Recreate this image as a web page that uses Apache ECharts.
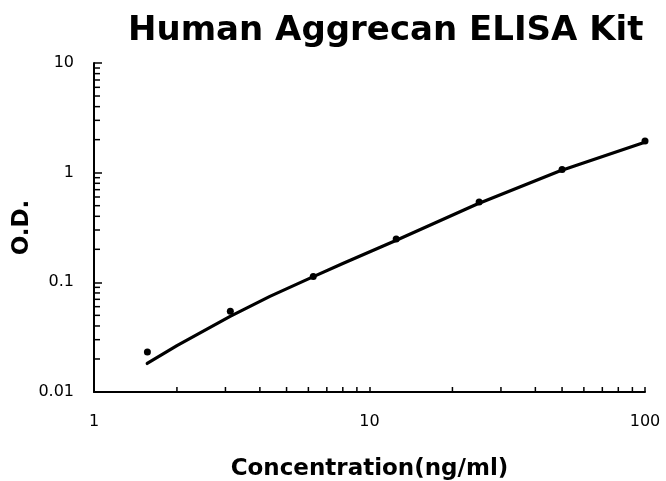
<!DOCTYPE html>
<html>
<head>
<meta charset="utf-8">
<script src="https://cdn.jsdelivr.net/npm/echarts@6/dist/echarts.min.js"></script>
<style>
  html, body { margin: 0; padding: 0; background: #fff; }
  #chart { width: 666px; height: 481px; }
</style>
</head>
<body>
<div id="chart"></div>
<script>
const concentrations = [1.5625, 3.125, 6.25, 12.5, 25, 50, 100];
const odValues = [0.0232, 0.0545, 0.113, 0.248, 0.541, 1.07, 1.94];

const fitX = [1.56, 2.0, 3.12, 4.35, 6.17, 8.0, 12.4, 24.5, 49, 98.6];
const fitY = [0.0182, 0.0265, 0.049, 0.0745, 0.111, 0.1486, 0.239, 0.515, 1.035, 1.875];

// Minor tick positions (log axes show 2..9 within each decade).
const xMinorTicks = [2, 3, 4, 5, 6, 7, 8, 9, 20, 30, 40, 50, 60, 70, 80, 90];
const yMinorTicks = [
  0.02, 0.03, 0.04, 0.05, 0.06, 0.07, 0.08, 0.09,
  0.2, 0.3, 0.4, 0.5, 0.6, 0.7, 0.8, 0.9,
  2, 3, 4, 5, 6, 7, 8, 9,
];

const X_MIN = 1, X_MAX = 100;
const Y_MIN = 0.01, Y_MAX = 10;

const LABEL_FONT = "DejaVu Sans";
const BOLD_FONT = "DejaVu Sans";

function fmtLog(v) {
  return String(parseFloat(Number(v).toPrecision(3)));
}

const chart = echarts.init(document.getElementById("chart"), null, { renderer: "canvas" });

const tickStyle = { stroke: "#000", lineWidth: 1.5 };

chart.setOption({
  backgroundColor: "#fff",
  animation: false,
  title: {
    text: "Human Aggrecan ELISA Kit",
    left: 128,
    top: 14,
    padding: 0,
    textStyle: { fontFamily: BOLD_FONT, fontWeight: "bold", fontSize: 34, color: "#000" },
  },
  // fixed plot box; v6 would otherwise shrink the grid to fit names
  grid: { left: 94, right: 21, top: 63, bottom: 89, containLabel: false, outerBoundsMode: "none" },
  xAxis: {
    type: "log",
    logBase: 10,
    min: X_MIN,
    max: X_MAX,
    name: "Concentration(ng/ml)",
    nameLocation: "middle",
    nameGap: 66,
    nameMoveOverlap: false,
    nameTextStyle: { fontFamily: BOLD_FONT, fontWeight: "bold", fontSize: 23, color: "#000" },
    axisLine: { lineStyle: { color: "#000", width: 2 } },
    axisTick: { inside: true, length: 5, lineStyle: { color: "#000", width: 1.5 } },
    axisLabel: { margin: 22, fontFamily: LABEL_FONT, fontSize: 16, color: "#000", formatter: fmtLog },
    splitLine: { show: false },
    minorTick: { show: false },
  },
  yAxis: {
    type: "log",
    logBase: 10,
    min: Y_MIN,
    max: Y_MAX,
    name: "O.D.",
    nameLocation: "middle",
    nameGap: 60,
    nameMoveOverlap: false,
    nameRotate: 90,
    nameTextStyle: { fontFamily: BOLD_FONT, fontWeight: "bold", fontSize: 23, color: "#000" },
    axisLine: { lineStyle: { color: "#000", width: 2 } },
    axisTick: { inside: true, length: 8, lineStyle: { color: "#000", width: 1.5 } },
    axisLabel: { margin: 20, fontFamily: LABEL_FONT, fontSize: 16, color: "#000", formatter: fmtLog },
    splitLine: { show: false },
    minorTick: { show: false },
  },
  series: [
    {
      // minor ticks along the x axis, placed through the axis scale
      type: "custom",
      silent: true,
      clip: false,
      data: xMinorTicks.map((v) => [v, Y_MIN]),
      renderItem(params, api) {
        const p = api.coord([api.value(0), api.value(1)]);
        return {
          type: "line",
          shape: { x1: p[0], y1: p[1], x2: p[0], y2: p[1] - 5 },
          style: tickStyle,
        };
      },
      z: 1,
    },
    {
      // minor ticks along the y axis
      type: "custom",
      silent: true,
      clip: false,
      data: yMinorTicks.map((v) => [X_MIN, v]),
      renderItem(params, api) {
        const p = api.coord([api.value(0), api.value(1)]);
        return {
          type: "line",
          shape: { x1: p[0], y1: p[1], x2: p[0] + 6, y2: p[1] },
          style: tickStyle,
        };
      },
      z: 1,
    },
    {
      name: "fit",
      type: "line",
      smooth: false,
      showSymbol: false,
      symbol: "none",
      data: fitX.map((x, i) => [x, fitY[i]]),
      lineStyle: { color: "#000", width: 3.2, cap: "round", join: "round" },
      z: 3,
    },
    {
      name: "standards",
      type: "scatter",
      symbol: "circle",
      symbolSize: 7,
      data: concentrations.map((x, i) => [x, odValues[i]]),
      itemStyle: { color: "#000", opacity: 1 },
      z: 4,
    },
  ],
});
</script>
</body>
</html>
